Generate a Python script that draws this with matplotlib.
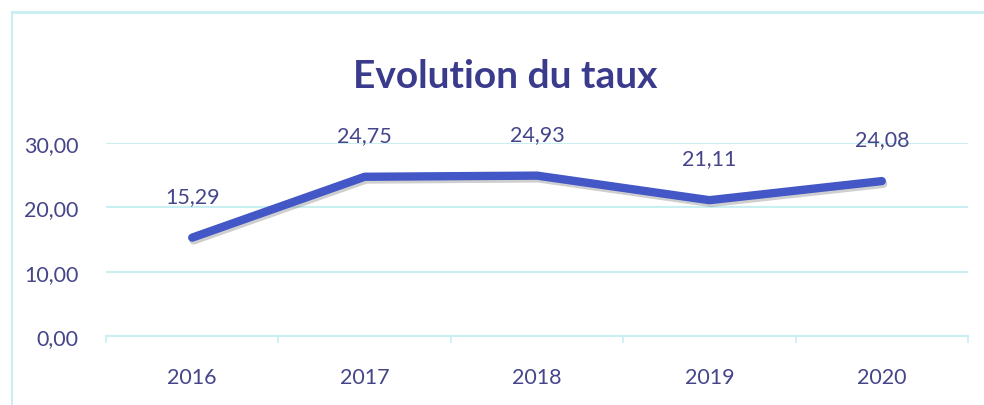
import numpy as np
import matplotlib.pyplot as plt
import matplotlib.patheffects as pe
from matplotlib.lines import Line2D

years = ['2016', '2017', '2018', '2019', '2020']
taux = [15.29, 24.75, 24.93, 21.11, 24.08]
y_ticks = [0, 10, 20, 30]

text_color = '#45458a'
line_color = '#4357c6'
grid_color = '#c9eff3'

plt.rcParams['font.family'] = ['Lato', 'DejaVu Sans']

fig = plt.figure(figsize=(9.84, 4.06), dpi=100)
ax = fig.add_axes([106 / 984, 1 - 337 / 406, (968 - 106) / 984, (337 - 144) / 406])

x = np.arange(len(years))
ax.plot(x, taux, color=line_color, linewidth=6, solid_capstyle='round',
        solid_joinstyle='round', zorder=3,
        path_effects=[pe.SimpleLineShadow(offset=(1, -2), shadow_color='#777777', alpha=0.35),
                      pe.Normal()])

for xi, v in zip(x, taux):
    ax.annotate(f'{v:.2f}'.replace('.', ','), (xi, v), xytext=(0, 30),
                textcoords='offset points', ha='center', va='center',
                fontsize=15.5, color=text_color)

ax.set_xlim(-0.5, len(years) - 0.5)
ax.set_ylim(0, 30)
ax.set_yticks(y_ticks)
ax.set_yticklabels([f'{t:.2f}'.replace('.', ',') for t in y_ticks])
ax.set_xticks(x)
ax.set_xticklabels(years)
ax.tick_params(axis='both', length=0, labelsize=15.5, labelcolor=text_color)
ax.tick_params(axis='y', pad=20)
ax.tick_params(axis='x', pad=22)

# boundary ticks between categories
ax.set_xticks(np.arange(-0.5, len(years)), minor=True)
ax.tick_params(axis='x', which='minor', length=5, color=grid_color, width=1.2)

ax.grid(axis='y', color=grid_color, linewidth=1.5)
ax.set_axisbelow(True)
for side in ['top', 'right', 'left']:
    ax.spines[side].set_visible(False)
ax.spines['bottom'].set_color(grid_color)
ax.spines['bottom'].set_linewidth(1.5)

fig.text(505 / 984, 1 - 76 / 406, 'Evolution du taux', ha='center', va='center',
         fontsize=28, fontweight='bold', color='#3b3b8e')

# chart frame
fig.add_artist(Line2D([12 / 984, 1], [1 - 13 / 406, 1 - 13 / 406], color=grid_color, linewidth=2))
fig.add_artist(Line2D([12 / 984, 12 / 984], [0, 1 - 13 / 406], color=grid_color, linewidth=1.5))

fig.savefig('out.png', dpi=100)
